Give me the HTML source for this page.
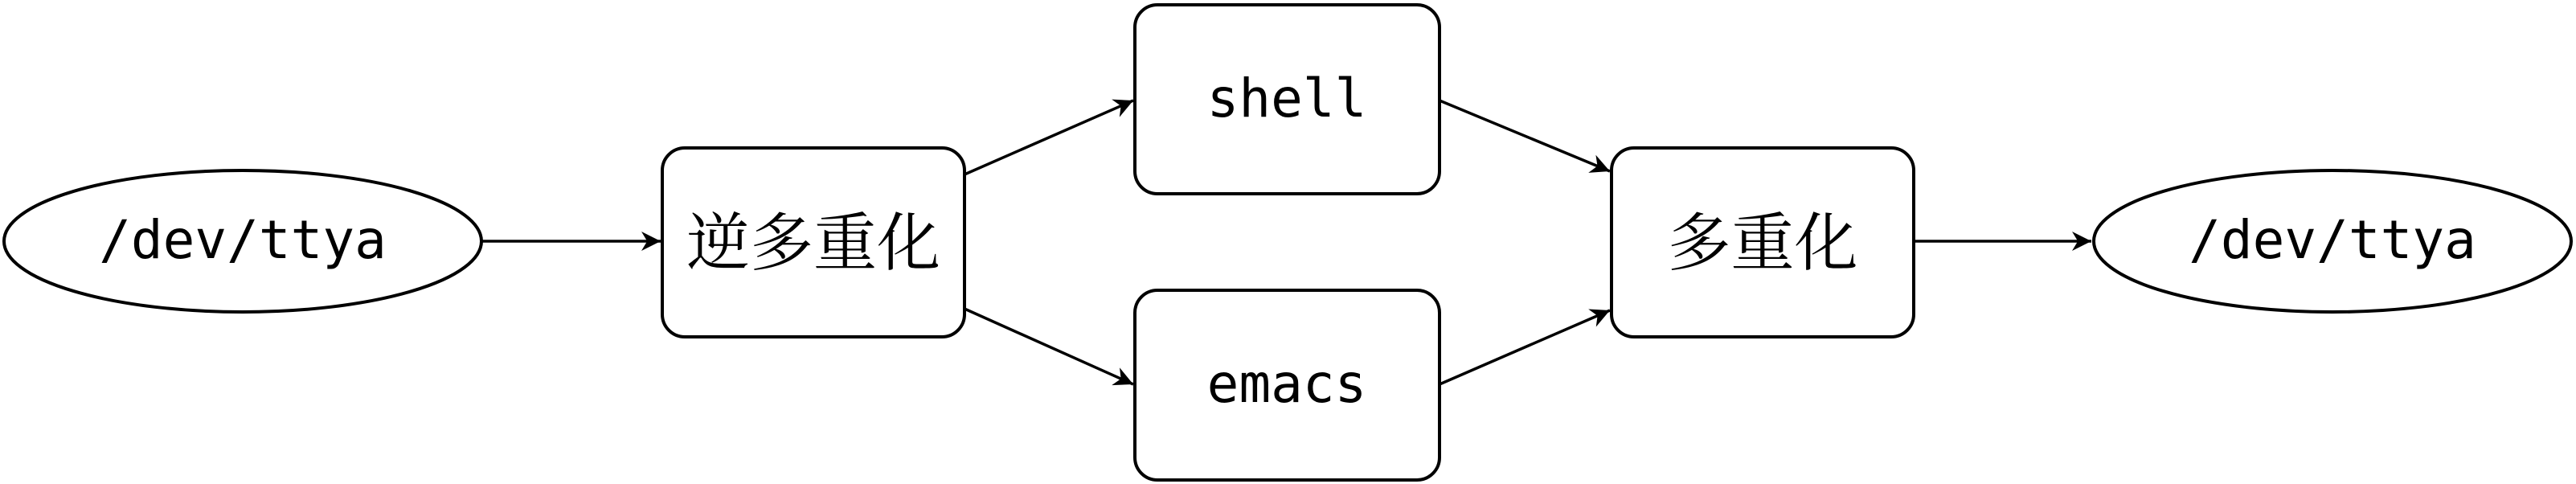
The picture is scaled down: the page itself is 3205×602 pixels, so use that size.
<!DOCTYPE html>
<html><head><meta charset="utf-8"><style>
html,body{margin:0;padding:0;background:#fff;}
svg{display:block;}
.m{font-family:"DejaVu Sans Mono","Liberation Mono",monospace;font-size:66px;}
.c{font-family:"Liberation Serif","Noto Serif CJK SC",serif;font-size:79px;}
</style></head><body>
<svg width="3205" height="602" viewBox="0 0 3205 602" xmlns="http://www.w3.org/2000/svg">
<defs>
<marker id="ar" viewBox="0 0 10 10" refX="10" refY="5" markerWidth="32" markerHeight="24" markerUnits="userSpaceOnUse" orient="auto">
<path d="M0,0 L10,5 L0,10 L3,5 z" fill="#000"/>
</marker>
</defs>
<g fill="none" stroke="#000" stroke-width="4">
<ellipse cx="302" cy="300" rx="297" ry="88"/>
<ellipse cx="2902" cy="300" rx="297" ry="88"/>
<rect x="824" y="184" width="376" height="235" rx="28"/>
<rect x="1412" y="6" width="379" height="235" rx="28"/>
<rect x="1412" y="361" width="379" height="236" rx="28"/>
<rect x="2005" y="184" width="376" height="235" rx="28"/>
</g>
<g stroke="#000" stroke-width="3.5" marker-end="url(#ar)">
<line x1="600" y1="300" x2="822" y2="300"/>
<line x1="1200" y1="217" x2="1410" y2="125"/>
<line x1="1200" y1="384" x2="1410" y2="478"/>
<line x1="1791" y1="125" x2="2003" y2="213"/>
<line x1="1791" y1="478" x2="2003" y2="386"/>
<line x1="2381" y1="300" x2="2602" y2="300"/>
</g>
<g text-anchor="middle" fill="#000">
<text class="m" x="302" y="298" dy="0.35em">/dev/ttya</text>
<text class="m" x="2902" y="298" dy="0.35em">/dev/ttya</text>
<text class="m" x="1601" y="122" dy="0.35em">shell</text>
<text class="m" x="1601" y="477" dy="0.35em">emacs</text>
<text class="c" x="1012" y="302" dy="0.35em">逆多重化</text>
<text class="c" x="2193" y="302" dy="0.35em">多重化</text>
</g>
</svg>
</body></html>
